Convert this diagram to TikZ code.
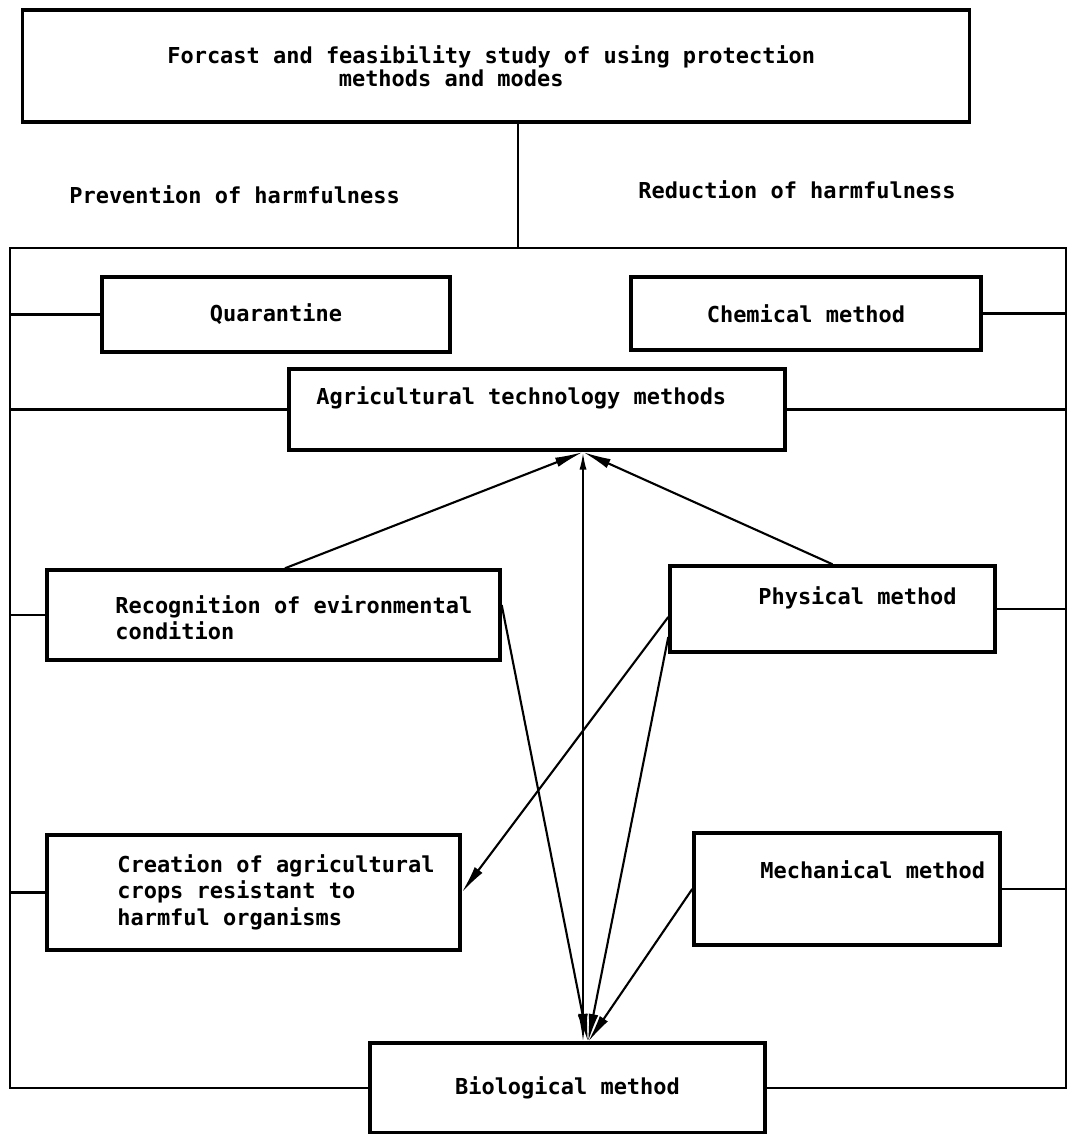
\documentclass[tikz,border=0pt]{standalone}
\usepackage{fontspec}
\setmonofont{DejaVu Sans Mono}
\usetikzlibrary{arrows.meta}
\tikzset{
  box/.style={draw, line width=2pt, inner sep=0pt},
  txt/.style={font=\ttfamily\bfseries\fontsize{12.5}{15}\selectfont, inner sep=0pt, align=left},
  link/.style={line width=1.6pt},
  arr/.style={line width=1.2pt, -{Latex[length=16pt,width=5.5pt]}},
  dbl/.style={line width=1.2pt, {Latex[length=10pt,width=4pt]}-{Latex[length=16pt,width=5.5pt]}},
}
\begin{document}
\begin{tikzpicture}[x=0.02cm, y=-0.02cm]
\useasboundingbox (0,0) rectangle (1072,1134);

% boxes
\node[box, minimum width=18.94cm, minimum height=2.24cm] (top) at (496,66) {};
\node[box, txt, minimum width=6.96cm, minimum height=1.5cm] (quar) at (276,314.5) {Quarantine};
\node[box, txt, minimum width=7.0cm, minimum height=1.46cm] (chem) at (806,313.5) {Chemical method};
\node[box, minimum width=9.92cm, minimum height=1.62cm] (agri) at (537,409.5) {};
\node[box, minimum width=9.06cm, minimum height=1.8cm] (rec) at (273.5,615) {};
\node[box, minimum width=6.5cm, minimum height=1.72cm] (phys) at (832.5,609) {};
\node[box, minimum width=8.26cm, minimum height=2.3cm] (crea) at (253.5,892.5) {};
\node[box, minimum width=6.12cm, minimum height=2.24cm] (mech) at (847,889) {};
\node[box, txt, minimum width=7.9cm, minimum height=1.8cm] (bio) at (567.5,1088) {Biological method};

% texts
\node[txt, anchor=west] (toptxt) at (167,66) {Forcast and feasibility study of using protection\\[-2pt]\hspace*{97.6pt}methods and modes};
\node[txt, anchor=west] (prev) at (69,195) {Prevention of harmfulness};
\node[txt, anchor=west] (red) at (638,190) {Reduction of harmfulness};
\node[txt, anchor=west] (agritxt) at (316,398) {Agricultural technology methods};
\node[txt, anchor=west] (rectxt) at (115,618) {Recognition of evironmental\\condition};
\node[txt, anchor=west] (phystxt) at (758,598) {Physical method};
\node[txt, anchor=west] (creatxt) at (117,892) {Creation of agricultural\\crops resistant to\\harmful organisms};
\node[txt, anchor=west] (mechtxt) at (760,870) {Mechanical method};

% frame
\coordinate (fnw) at (10,248);
\coordinate (fne) at (1066,248);
\coordinate (tj) at (518,248);
\draw[link] (bio.west) -| (fnw) -- (fne) |- (bio.east);
\draw[link] (tj) -- (tj |- top.south);

\draw[link] (quar.west) -- (quar.west -| fnw);
\draw[link] (agri.west) -- (agri.west -| fnw);
\draw[link] (rec.west) -- (rec.west -| fnw);
\draw[link] (crea.west) -- (crea.west -| fnw);
\draw[link] (chem.east) -- (chem.east -| fne);
\draw[link] (agri.east) -- (agri.east -| fne);
\draw[link] (phys.east) -- (phys.east -| fne);
\draw[link] (mech.east) -- (mech.east -| fne);

% arrows
\coordinate (agriin) at (583,452);
\coordinate (bioin) at (588,1042);
\draw[arr] ([xshift=0.23cm]rec.north) -- (agriin);
\draw[arr] (phys.north) -- (agriin);
\draw[dbl] (agriin) -- (agriin |- bioin);
\draw[arr] ([yshift=0.2cm]rec.east) -- (bioin);
\draw[arr] ([yshift=-0.16cm]phys.west) -- (crea.east);
\draw[arr] ([yshift=-0.56cm]phys.west) -- (bioin);
\draw[arr] (mech.west) -- (bioin);

\end{tikzpicture}
\end{document}
